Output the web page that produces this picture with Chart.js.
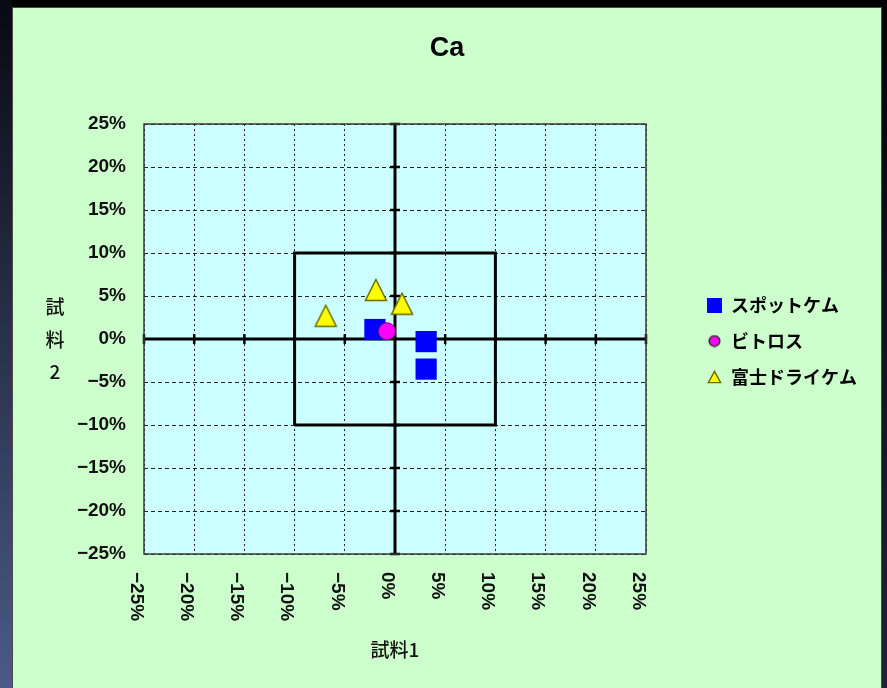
<!DOCTYPE html>
<html><head><meta charset="utf-8">
<script src="https://cdn.jsdelivr.net/npm/chart.js@4"></script>
<style>
html,body{margin:0;padding:0;width:887px;height:688px;overflow:hidden;background:#000;}
#edgeL{position:absolute;left:0;top:0;width:12px;height:688px;background:linear-gradient(#070a12,#4b5b86);}
#edgeR{position:absolute;left:881px;top:0;width:6px;height:688px;background:linear-gradient(#020306,#1d2538);}
#panel{position:absolute;left:12px;top:7px;width:868px;height:690px;background:#CCFFCC;border:1px solid #4a4a4a;}
#wrap{position:absolute;left:13px;top:8px;width:868px;height:680px;}
</style></head><body>
<div id="edgeL"></div><div id="edgeR"></div><div id="panel"></div>
<div id="wrap"><canvas id="c"></canvas></div>
<script>
// ---- data ----
const chartTitle = 'Ca';
const xTitle = '試料1';
const yTitle = '試料2';
const seriesNames = ['スポットケム', 'ビトロス', '富士ドライケム'];
const spotX = [-2.0, 3.1, 3.1];
const spotY = [1.1, -0.3, -3.5];
const vitrosX = [-0.8];
const vitrosY = [0.9];
const fujiX = [-6.9, -1.9, 0.7];
const fujiY = [2.7, 5.7, 4.1];
const tickValues = [-25, -20, -15, -10, -5, 0, 5, 10, 15, 20, 25];
const xTickLabels = ['−25%', '−20%', '−15%', '−10%', '−5%', '0%', '5%', '10%', '15%', '20%', '25%'];
const yTickLabels = ['−25%', '−20%', '−15%', '−10%', '−5%', '0%', '5%', '10%', '15%', '20%', '25%'];
const axisLineX = [-25, 25];
const axisLineY = [-25, 25];
const limitBoxX = [-10, 10, 10, -10, -10];
const limitBoxY = [-10, -10, 10, 10, -10];

// ---- marker images ----
function makeCanvas(w, h, draw) {
  const c = document.createElement('canvas'); c.width = w; c.height = h;
  draw(c.getContext('2d'), w, h); return c;
}
function tri(w, h, lw) {
  return makeCanvas(w, h, (g) => {
    g.beginPath(); g.moveTo(w / 2, lw); g.lineTo(w - lw, h - lw); g.lineTo(lw, h - lw); g.closePath();
    g.fillStyle = '#FFFF00'; g.fill(); g.strokeStyle = '#6b6b00'; g.lineWidth = lw; g.stroke();
  });
}
const triPlot = tri(24, 24, 1.5);
const legSquare = makeCanvas(15, 15, (g, w, h) => { g.fillStyle = '#0000FF'; g.fillRect(0, 0, w, h); });
const legCircle = makeCanvas(13, 13, (g, w, h) => {
  g.beginPath(); g.arc(w / 2, h / 2, 5.3, 0, Math.PI * 2); g.fillStyle = '#FF00FF'; g.fill();
  g.strokeStyle = '#333'; g.lineWidth = 1.6; g.stroke();
});
const legTri = tri(15, 14, 1.4);
const legendImages = [legSquare, legCircle, legTri];

const tickFont = { family: "'Liberation Sans', Arial, sans-serif", size: 19, weight: 'bold' };
const jpFont = { family: "'Noto Sans CJK JP', sans-serif", size: 19, weight: '500' };

const extras = {
  id: 'extras',
  beforeLayout(chart) {
    const lg = chart.legend;
    if (lg && !lg._patched) {
      const f = lg.fit;
      lg.fit = function () { f.call(this); this.width = 235; };
      lg._patched = true;
    }
  },
  afterLayout(chart) {
    const lg = chart.legend;
    if (lg) { lg.left = 676; lg.right = 868; lg.top = 118; lg.bottom = 548; }
  },
  beforeDraw(chart) {
    const { ctx, chartArea: a } = chart;
    ctx.save(); ctx.fillStyle = '#CCFFFF';
    ctx.fillRect(a.left, a.top, a.right - a.left, a.bottom - a.top); ctx.restore();
  },
  beforeDatasetsDraw(chart) {
    const { ctx } = chart; const xs = chart.scales.x, ys = chart.scales.y;
    const x0 = xs.getPixelForValue(0), y0 = ys.getPixelForValue(0);
    ctx.save(); ctx.strokeStyle = '#000'; ctx.lineWidth = 2.5;
    tickValues.forEach(v => {
      if (v === 0) return;
      const px = xs.getPixelForValue(v), py = ys.getPixelForValue(v);
      ctx.beginPath(); ctx.moveTo(px, y0 - 5); ctx.lineTo(px, y0 + 5); ctx.stroke();
      ctx.beginPath(); ctx.moveTo(x0 - 5, py); ctx.lineTo(x0 + 5, py); ctx.stroke();
    });
    ctx.restore();
  },
  afterDraw(chart) {
    const { ctx, chartArea: a } = chart; const xs = chart.scales.x;
    ctx.save();
    ctx.strokeStyle = '#3a3a3a'; ctx.lineWidth = 1.5;
    ctx.strokeRect(a.left, a.top, a.right - a.left, a.bottom - a.top);
    // rotated x tick labels (reading top to bottom)
    ctx.fillStyle = '#111';
    ctx.font = `${tickFont.weight} ${tickFont.size}px ${tickFont.family}`;
    ctx.textAlign = 'left'; ctx.textBaseline = 'middle';
    xs.ticks.forEach(t => {
      const i = tickValues.indexOf(t.value); if (i < 0) return;
      const px = xs.getPixelForValue(t.value);
      ctx.save(); ctx.translate(px - 8, a.bottom + 18); ctx.rotate(Math.PI / 2);
      ctx.fillText(xTickLabels[i], 0, 0); ctx.restore();
    });
    // stacked y axis title
    ctx.font = `${jpFont.weight} ${jpFont.size}px ${jpFont.family}`;
    ctx.textAlign = 'center'; ctx.fillStyle = '#111';
    const chars = Array.from(yTitle);
    chars.forEach((ch, i) => ctx.fillText(ch, 42, 299 + i * 32.5));
    ctx.restore();
  }
};

const lineDs = (label, data) => ({
  label, data, showLine: true, pointRadius: 0, borderColor: '#000', borderWidth: 3,
  backgroundColor: '#000', fill: false, order: 10
});

new Chart(document.getElementById('c'), {
  type: 'scatter',
  data: {
    datasets: [
      { label: seriesNames[0], data: spotX.map((x, i) => ({ x, y: spotY[i] })), pointStyle: 'rect', order: 2,
        pointRadius: 15, backgroundColor: '#0000FF', borderColor: '#0000FF', borderWidth: 0 },
      { label: seriesNames[1], data: vitrosX.map((x, i) => ({ x, y: vitrosY[i] })), pointStyle: 'circle', order: 1,
        pointRadius: 8.5, backgroundColor: '#FF00FF', borderColor: '#7a007a', borderWidth: 1 },
      { label: seriesNames[2], data: fujiX.map((x, i) => ({ x, y: fujiY[i] })), pointStyle: triPlot, order: 3,
        pointRadius: 12, backgroundColor: '#FFFF00', borderColor: '#6b6b00' },
      lineDs('axisH', axisLineX.map(x => ({ x, y: 0 }))),
      lineDs('axisV', axisLineY.map(y => ({ x: 0, y }))),
      lineDs('limitBox', limitBoxX.map((x, i) => ({ x, y: limitBoxY[i] })))
    ]
  },
  options: {
    responsive: true, maintainAspectRatio: false, animation: false, events: [],
    layout: { padding: 0 },
    plugins: {
      tooltip: { enabled: false },
      title: { display: true, text: chartTitle, color: '#000',
        font: { family: "'Liberation Sans', Arial, sans-serif", size: 27, weight: 'bold' },
        padding: { top: 24, bottom: 59.6 } },
      legend: {
        position: 'right', align: 'center', fullSize: false,
        labels: {
          usePointStyle: true, boxWidth: 15, boxHeight: 15, padding: 18, color: '#111',
          font: { family: "'Noto Sans CJK JP', sans-serif", size: 18, weight: 'bold' },
          generateLabels(chart) {
            return seriesNames.map((name, i) => ({
              text: name, pointStyle: legendImages[i], fillStyle: '#000', strokeStyle: '#000',
              lineWidth: 0, hidden: false, datasetIndex: i
            }));
          }
        }
      }
    },
    scales: {
      x: {
        type: 'linear', min: -25, max: 25,
        ticks: { stepSize: 5, display: false },
        grid: { color: '#222', lineWidth: 1, drawTicks: false },
        border: { display: false, dash: [2, 3] },
        title: { display: true, text: xTitle, color: '#111', font: jpFont, padding: { top: 0, bottom: 27 } },
        afterFit(s) { s.height = 134; }
      },
      y: {
        type: 'linear', min: -25, max: 25,
        ticks: { stepSize: 5, padding: 18, color: '#111', font: tickFont,
          callback: (v) => { const i = tickValues.indexOf(v); return i < 0 ? '' : yTickLabels[i]; } },
        grid: { color: '#222', lineWidth: 1, drawTicks: false },
        border: { display: false, dash: [4, 3] },
        afterFit(s) { s.width = 131; }
      }
    }
  },
  plugins: [extras]
});
</script>
</body></html>
